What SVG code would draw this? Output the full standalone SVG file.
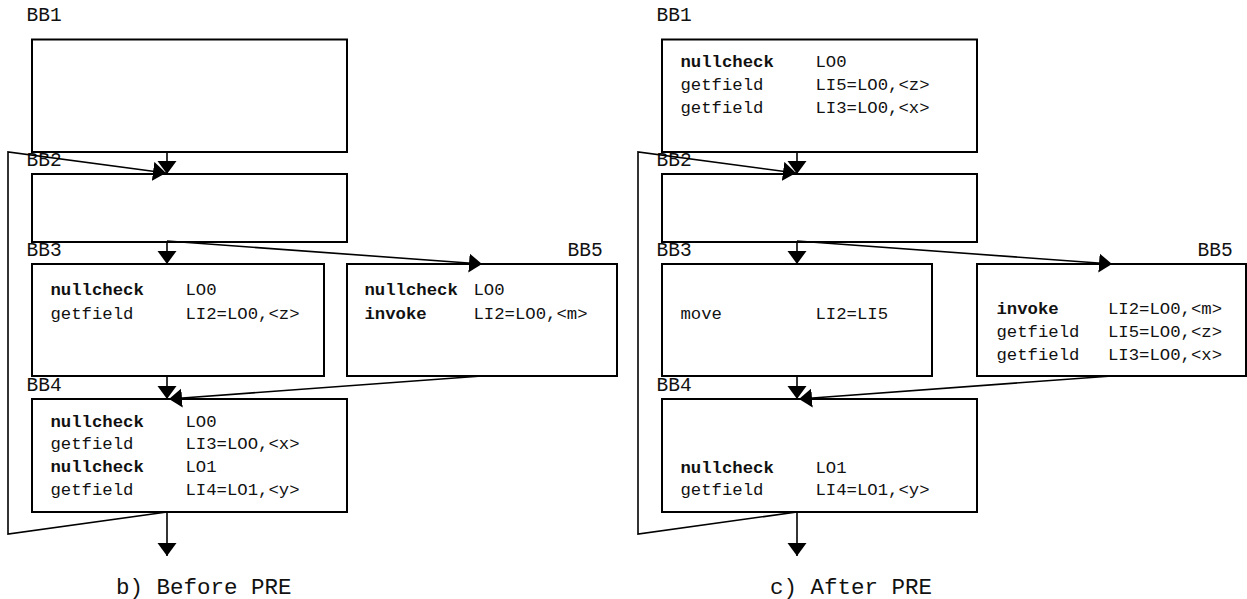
<svg xmlns="http://www.w3.org/2000/svg" width="1247" height="599" viewBox="0 0 1247 599">
<style>
text{font-family:"Liberation Mono","Courier New",monospace;fill:#111;}
.t{font-size:17.3px;}
.b{font-weight:bold;}
.lb{font-size:19.5px;}
.cap{font-size:22.5px;}
rect{fill:#fff;stroke:#000;stroke-width:2;}
.e{fill:none;stroke:#000;stroke-width:1.6;}
</style>
<defs>
<marker id="ah" markerUnits="userSpaceOnUse" markerWidth="14" markerHeight="20" refX="13" refY="9.5" orient="auto"><path d="M0,0 L13,9.5 L0,19 Z" fill="#000"/></marker>
</defs>
<g id="left">
<g id="L-BB1"><text class="lb" x="26.5" y="21">BB1</text><rect x="32" y="39.5" width="315" height="112.5"/></g>
<g id="L-BB2"><rect x="32" y="174" width="315" height="68"/><text class="lb" x="26.5" y="166">BB2</text></g>
<g id="L-BB3"><text class="lb" x="26.5" y="256">BB3</text><rect x="32" y="264" width="292" height="112"/>
<text class="t b" x="50.5" y="294.5">nullcheck</text><text class="t" x="185.5" y="294.5">LO0</text>
<text class="t" x="50.5" y="319">getfield</text><text class="t" x="185.5" y="319">LI2=LO0,&lt;z&gt;</text></g>
<g id="L-BB5"><text class="lb" x="567.5" y="256">BB5</text><rect x="347" y="264" width="270" height="112"/>
<text class="t b" x="364.5" y="294.5">nullcheck</text><text class="t" x="473.5" y="294.5">LO0</text>
<text class="t b" x="364.5" y="319">invoke</text><text class="t" x="473.5" y="319">LI2=LO0,&lt;m&gt;</text></g>
<g id="L-BB4"><text class="lb" x="26.5" y="391">BB4</text><rect x="32" y="399" width="315" height="113"/>
<text class="t b" x="50.5" y="426.7">nullcheck</text><text class="t" x="185.5" y="426.7">LO0</text>
<text class="t" x="50.5" y="449.3">getfield</text><text class="t" x="185.5" y="449.3">LI3=LOO,&lt;x&gt;</text>
<text class="t b" x="50.5" y="471.9">nullcheck</text><text class="t" x="185.5" y="471.9">LO1</text>
<text class="t" x="50.5" y="494.5">getfield</text><text class="t" x="185.5" y="494.5">LI4=LO1,&lt;y&gt;</text></g>
<text class="cap" x="116" y="594">b) Before PRE</text>
</g>
<g id="right">
<g id="R-BB1"><text class="lb" x="656.5" y="21">BB1</text><rect x="662" y="39.5" width="315" height="112.5"/>
<text class="t b" x="680.5" y="67.3">nullcheck</text><text class="t" x="815.5" y="67.3">LO0</text>
<text class="t" x="680.5" y="90">getfield</text><text class="t" x="815.5" y="90">LI5=LO0,&lt;z&gt;</text>
<text class="t" x="680.5" y="112.7">getfield</text><text class="t" x="815.5" y="112.7">LI3=LO0,&lt;x&gt;</text></g>
<g id="R-BB2"><rect x="662" y="174" width="315" height="68"/><text class="lb" x="656.5" y="166">BB2</text></g>
<g id="R-BB3"><text class="lb" x="656.5" y="256">BB3</text><rect x="662" y="264" width="270" height="112"/>
<text class="t" x="680.5" y="319">move</text><text class="t" x="815.5" y="319">LI2=LI5</text></g>
<g id="R-BB5"><text class="lb" x="1197.5" y="256">BB5</text><rect x="977" y="264" width="269" height="112"/>
<text class="t b" x="996.5" y="314.3">invoke</text><text class="t" x="1108" y="314.3">LI2=LO0,&lt;m&gt;</text>
<text class="t" x="996.5" y="337.2">getfield</text><text class="t" x="1108" y="337.2">LI5=LO0,&lt;z&gt;</text>
<text class="t" x="996.5" y="360">getfield</text><text class="t" x="1108" y="360">LI3=LO0,&lt;x&gt;</text></g>
<g id="R-BB4"><text class="lb" x="656.5" y="391">BB4</text><rect x="662" y="399" width="315" height="113"/>
<text class="t b" x="680.5" y="472.5">nullcheck</text><text class="t" x="815.5" y="472.5">LO1</text>
<text class="t" x="680.5" y="495">getfield</text><text class="t" x="815.5" y="495">LI4=LO1,&lt;y&gt;</text></g>
<text class="cap" x="770" y="594">c) After PRE</text>
</g>
<g id="connectors">
<path class="e" d="M167,152 L167,174" marker-end="url(#ah)"/>
<path class="e" d="M167,512 L8,534 L8,152 L166,173" marker-end="url(#ah)"/>
<path class="e" d="M167,242 L167,264" marker-end="url(#ah)"/>
<path class="e" d="M167,241 L482,264" marker-end="url(#ah)"/>
<path class="e" d="M167,376 L167,399" marker-end="url(#ah)"/>
<path class="e" d="M482,376 L169,399" marker-end="url(#ah)"/>
<path class="e" d="M167,512 L167,556" marker-end="url(#ah)"/>
<path class="e" d="M797,152 L797,174" marker-end="url(#ah)"/>
<path class="e" d="M797,512 L638,534 L638,152 L796,173" marker-end="url(#ah)"/>
<path class="e" d="M797,242 L797,264" marker-end="url(#ah)"/>
<path class="e" d="M797,241 L1112,264" marker-end="url(#ah)"/>
<path class="e" d="M797,376 L797,399" marker-end="url(#ah)"/>
<path class="e" d="M1112,376 L799,399" marker-end="url(#ah)"/>
<path class="e" d="M797,512 L797,556" marker-end="url(#ah)"/>
</g>
</svg>
